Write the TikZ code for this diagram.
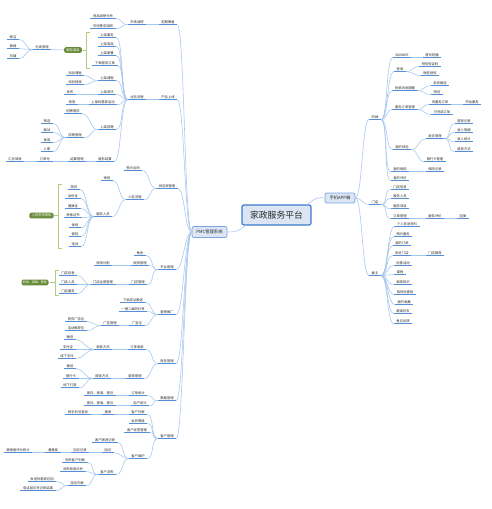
\documentclass[tikz,border=0pt]{standalone}
\usepackage{fontspec}
\newfontfamily\cjk{Noto Sans CJK SC}
\definecolor{linec}{RGB}{165,198,238}
\definecolor{ulc}{RGB}{84,142,214}
\definecolor{rootfill}{RGB}{219,229,243}
\definecolor{rootdraw}{RGB}{62,122,204}
\definecolor{boxdraw}{RGB}{122,166,222}
\definecolor{gfill}{RGB}{104,140,56}
\definecolor{gline}{RGB}{176,206,128}
\definecolor{txt}{RGB}{40,40,40}
\tikzset{
 ul/.style={draw=ulc,line width=0.7pt},
 lf/.style={font=\cjk\fontsize{3.3}{4}\selectfont, text=txt, inner xsep=2.5pt, inner ysep=0.8pt,
   text height=2.6pt, text depth=0.6pt,
   append after command={(\tikzlastnode.south west) edge[ul] (\tikzlastnode.south east)}},
 conn/.style={draw=linec, line width=0.55pt},
 rootbox/.style={draw=rootdraw, fill=rootfill, line width=1.2pt, rounded corners=2pt, font=\cjk\fontsize{8.8}{10}\selectfont, text=txt, minimum width=69pt, minimum height=20pt, inner sep=0pt},
 l1box/.style={draw=boxdraw, fill=rootfill, line width=0.7pt, rounded corners=2pt, font=\cjk\fontsize{4.3}{5}\selectfont, text=txt, inner sep=0pt},
 gbox/.style={fill=gfill, text=white, font=\cjk\fontsize{3.3}{4}\selectfont, rounded corners=1.5pt, inner xsep=2.2pt, inner ysep=1.3pt, text height=2.6pt, text depth=0.6pt},
 brc/.style={draw=gline, line width=0.9pt},
}
\newcommand\lk[2]{\draw[conn] (#1.south west) .. controls +(-7pt,0pt) and +(7pt,0pt) .. (#2.south east);}
\newcommand\rk[2]{\draw[conn] (#1.south east) .. controls +(7pt,0pt) and +(-7pt,0pt) .. (#2.south west);}
\newcommand\lks[2]{\foreach \mychild in {#2}{\lk{#1}{\mychild}}}
\newcommand\rks[2]{\foreach \mychild in {#2}{\rk{#1}{\mychild}}}
\newcommand\brk[5]{\draw[brc] (#1+4,#2) -- (#1,#2) -- (#1,#3) -- (#1+4,#3); \draw[brc] (#1,#4) -- (#5,#4);}
\begin{document}
\begin{tikzpicture}[x=1pt,y=-1pt]
\useasboundingbox (0,0) rectangle (492,509);
\fill[white] (0,0) rectangle (492,509);
% centre
\node[rootbox] (root) at (276.5,215) {家政服务平台};
\node[l1box, minimum width=35pt, minimum height=11pt] (pmc) at (209.5,232) {PMC管理系统};
\node[l1box, minimum width=30pt, minimum height=10pt] (app) at (340,198) {手机APP端};
\coordinate (rl) at (246,225);
\coordinate (rr) at (307,205);
\draw[conn] (rl) .. controls (238,232) and (234,232) .. (pmc.east);
\draw[conn] (rr) .. controls (315,198) and (318,197) .. (app.west);
% ===== left level 2
\node[lf] (a1) at (168,22) {前期筹备};
\node[lf] (a2) at (168,97) {产品上线};
\node[lf] (a3) at (167,186) {供应商管理};
\node[lf] (a4) at (167,267) {平台管理};
\node[lf] (a5) at (167,312) {营销推广};
\node[lf] (a6) at (167,361) {财务管理};
\node[lf] (a7) at (167,398) {数据管理};
\node[lf] (a8) at (167,436) {客户管理};
\foreach \mychild in {a1,a2,a3,a4,a5,a6,a7,a8}{\draw[conn] (pmc.west) .. controls +(-7pt,0pt) and +(7pt,0pt) .. (\mychild.south east);}
% a1
\node[lf] (b1) at (137,22) {市场调研};
\node[lf] (c11) at (103,16) {竞品调研分析};
\node[lf] (c12) at (103,26) {市场需求调研};
\lk{a1}{b1} \lks{b1}{c11,c12}
% a2
\node[lf] (b2) at (137,97) {业务流程};
\node[lf] (c21) at (107,35) {上架服务};
\node[lf] (c22) at (107,44) {上架商品};
\node[lf] (c23) at (107,53) {上架套餐};
\node[lf] (c24) at (105,63) {下单服务订单};
\node[lf] (c25) at (107,78) {上架课程};
\node[lf] (c26) at (107,92) {上架资讯};
\node[lf] (c27) at (103,102) {上架优惠券活动};
\node[lf] (c28) at (107,127) {上架招聘};
\node[lf] (c29) at (105,159) {服务结算};
\lk{a2}{b2} \lks{b2}{c21,c22,c23,c24,c25,c26,c27,c28,c29}
\node[lf] (d251) at (75,73) {添加课程};
\node[lf] (d252) at (75,82) {添加视频};
\lks{c25}{d251,d252}
\node[lf] (d261) at (70,92) {发布};
\lk{c26}{d261}
\node[lf] (d271) at (72,102) {领券};
\lk{c27}{d271}
\node[lf] (d281) at (73,111) {招聘需求};
\node[lf] (d282) at (75,135) {应聘管理};
\lks{c28}{d281,d282}
\node[lf] (e1) at (47,121) {筛选};
\node[lf] (e2) at (47,130) {面试};
\node[lf] (e3) at (47,140) {录用};
\node[lf] (e4) at (47,149) {入职};
\lks{d282}{e1,e2,e3,e4}
\node[lf] (d291) at (77,159) {结算管理};
\node[lf] (d292) at (45,159) {订单号};
\node[lf] (d293) at (15,159) {汇总到账};
\lk{c29}{d291} \lk{d291}{d292} \lk{d292}{d293}
% green group 1
\node[gbox] (g1) at (73,50) {服务类目};
\brk{86}{32}{68}{50}{83}
\node[lf] (k1) at (42,47) {分类管理};
\draw[conn] (g1.west) -- (k1.south east);
\node[lf] (k11) at (13,37) {保洁};
\node[lf] (k12) at (13,46) {保姆};
\node[lf] (k13) at (13,56) {月嫂};
\lks{k1}{k11,k12,k13}
% a3
\node[lf] (b31) at (133,168) {签约合同};
\node[lf] (b32) at (135,197) {入驻流程};
\lks{a3}{b31,b32}
\node[lf] (c31) at (107,178) {审核};
\node[lf] (c32) at (103,214) {服务人员};
\lks{b32}{c31,c32}
\node[lf] (f1) at (74,187) {简历};
\node[lf] (f2) at (73,196) {身份证};
\node[lf] (f3) at (73,206) {健康证};
\node[lf] (f4) at (73,215) {资格证书};
\node[lf] (f5) at (75,225) {体检};
\node[lf] (f6) at (75,234) {保险};
\node[lf] (f7) at (75,244) {培训};
\lks{c32}{f1,f2,f3,f4,f5,f6,f7}
\node[gbox] (g2) at (41.5,215.5) {上岗资质审核};
\brk{58}{184}{248}{215.5}{54}
% a4
\node[lf] (b41) at (140,253) {角色};
\node[lf] (b42) at (140,263) {权限管理};
\node[lf] (b43) at (138,282) {门店管理};
\lks{a4}{b41,b42,b43}
\node[lf] (c42) at (103,263) {权限分配};
\lk{b42}{c42}
\node[lf] (c43) at (103,282) {门店运营管理};
\lk{b43}{c43}
\node[lf] (h1) at (68,273) {门店信息};
\node[lf] (h2) at (68,282) {门店人员};
\node[lf] (h3) at (68,291) {门店服务};
\lks{c43}{h1,h2,h3}
\node[gbox, font=\cjk\fontsize{3.0}{4}\selectfont, inner xsep=1.5pt] (g3) at (35,282.5) {新增、编辑、删除};
\brk{55}{270}{295}{282.5}{50}
% a5
\node[lf] (b51) at (133,300) {下单成功推送};
\node[lf] (b52) at (133,309) {一键二维码分享};
\node[lf] (b53) at (137,323) {广告位};
\lks{a5}{b51,b52,b53}
\node[lf] (c53) at (110,323) {广告管理};
\lk{b53}{c53}
\node[lf] (i1) at (76,319) {首页广告位};
\node[lf] (i2) at (76,328) {活动推荐位};
\lks{c53}{i1,i2}
% a6
\node[lf] (b61) at (137,347) {订单收款};
\node[lf] (b62) at (135,376) {提现管理};
\lks{a6}{b61,b62}
\node[lf] (c61) at (103,347) {收款方式};
\node[lf] (c62) at (102,376) {提现方式};
\lk{b61}{c61} \lk{b62}{c62}
\node[lf] (j1) at (70,337) {微信};
\node[lf] (j2) at (68,347) {支付宝};
\node[lf] (j3) at (67,356) {线下支付};
\lks{c61}{j1,j2,j3}
\node[lf] (j4) at (70,366) {微信};
\node[lf] (j5) at (71,376) {银行卡};
\node[lf] (j6) at (70,385) {线下打款};
\lks{c62}{j4,j5,j6}
% a7
\node[lf] (b71) at (138,393) {订单统计};
\node[lf] (b72) at (140,403) {用户统计};
\lks{a7}{b71,b72}
\node[lf] (c71) at (100,393) {按日、按周、按月};
\node[lf] (c72) at (100,403) {按日、按周、按月};
\lk{b71}{c71} \lk{b72}{c72}
% a8
\node[lf] (b81) at (138,412) {客户列表};
\node[lf] (b82) at (138,421) {会员等级};
\node[lf] (b83) at (137,430) {客户标签管理};
\node[lf] (b84) at (138,456) {客户维护};
\lks{a8}{b81,b82,b83,b84}
\node[lf] (c81) at (108,412) {搜索};
\node[lf] (c811) at (78,412) {按手机号查找};
\lk{b81}{c81} \lk{c81}{c811}
\node[lf] (c841) at (105,440) {客户跟进记录};
\node[lf] (c842) at (108,450) {回访};
\node[lf] (c843) at (107,472) {客户流失};
\lks{b84}{c841,c842,c843}
\node[lf] (m1) at (80,450) {回访记录};
\node[lf] (m2) at (53,450) {满意度};
\node[lf] (m3) at (18,450) {满意度评分统计};
\lk{c842}{m1} \lk{m1}{m2} \lk{m2}{m3}
\node[lf] (n1) at (75,460) {流失客户列表};
\node[lf] (n2) at (73,469) {流失原因分析};
\node[lf] (n3) at (77,483) {召回方案};
\lks{c843}{n1,n2,n3}
\node[lf] (o1) at (42,479) {发送优惠券召回};
\node[lf] (o2) at (38,488) {电话回访并记录结果};
\lks{n3}{o1,o2}
% ===== right side
\node[lf] (r1) at (375,117) {阿姨};
\node[lf] (r2) at (375,202) {门店};
\node[lf] (r3) at (375,273) {雇主};
\foreach \mychild in {r1,r2,r3}{\draw[conn] (app.east) .. controls +(7pt,0pt) and +(-7pt,0pt) .. (\mychild.south west);}
% r1
\node[lf] (p1) at (402,55) {BANNER};
\node[lf] (p2) at (400,69) {登录};
\node[lf] (p3) at (405,88) {抢单消息提醒};
\node[lf] (p4) at (405,107) {服务订单管理};
\node[lf] (p5) at (402,147) {我的钱包};
\node[lf] (p6) at (400,169) {我的保险};
\node[lf] (p7) at (400,178) {我的评价};
\rks{r1}{p1,p2,p3,p4,p5,p6,p7}
\node[lf] (q11) at (432,55) {首页轮播};
\rk{p1}{q11}
\node[lf] (q21) at (430,64) {短信验证码};
\node[lf] (q22) at (430,73) {微信授权};
\rks{p2}{q21,q22}
\node[lf] (q31) at (440,83) {系统推送};
\node[lf] (q32) at (437,92) {短信};
\rks{p3}{q31,q32}
\node[lf] (q41) at (440,102) {待服务订单};
\node[lf] (q42) at (442,112) {已完成订单};
\rks{p4}{q41,q42}
\node[lf] (q411) at (472,102) {开始服务};
\rk{q41}{q411}
\node[lf] (q51) at (435,136) {收支管理};
\node[lf] (q52) at (435,159) {银行卡管理};
\rks{p5}{q51,q52}
\node[lf] (s1) at (464,121) {提现记录};
\node[lf] (s2) at (464,130) {收入明细};
\node[lf] (s3) at (464,139) {收入统计};
\node[lf] (s4) at (464,149) {提现方式};
\rks{q51}{s1,s2,s3,s4}
\node[lf] (q61) at (435,169) {保险记录};
\rk{p6}{q61}
% r2
\node[lf] (t1) at (400,187) {门店信息};
\node[lf] (t2) at (400,196) {服务人员};
\node[lf] (t3) at (400,206) {服务项目};
\node[lf] (t4) at (400,216) {订单管理};
\rks{r2}{t1,t2,t3,t4}
\node[lf] (t41) at (435,216) {服务评价};
\node[lf] (t42) at (463,216) {回复};
\rk{t4}{t41} \rk{t41}{t42}
% r3
\node[lf] (u1) at (407,224) {个人信息资料};
\node[lf] (u2) at (403,234) {预约服务};
\node[lf] (u3) at (402,243) {我的订单};
\node[lf] (u4) at (402,253) {附近门店};
\node[lf] (u5) at (403,263) {优惠活动};
\node[lf] (u6) at (400,272) {课程};
\node[lf] (u7) at (403,282) {家政知识};
\node[lf] (u8) at (405,292) {我的优惠券};
\node[lf] (u9) at (404,302) {我的收藏};
\node[lf] (u10) at (403,311) {邀请好友};
\node[lf] (u11) at (403,321) {意见反馈};
\rks{r3}{u1,u2,u3,u4,u5,u6,u7,u8,u9,u10,u11}
\node[lf] (u41) at (435,253) {门店推荐};
\rk{u4}{u41}
\end{tikzpicture}
\end{document}
